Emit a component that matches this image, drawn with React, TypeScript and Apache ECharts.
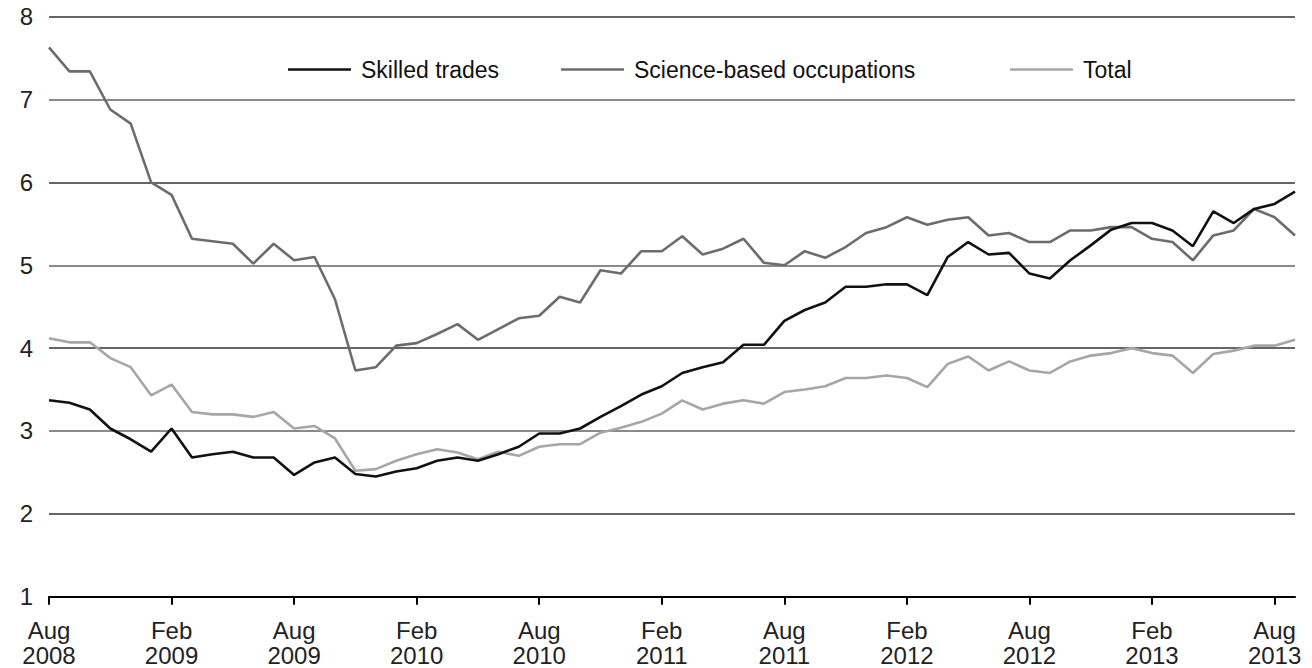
import React, { useEffect, useRef } from "react";
import * as echarts from "echarts";

const MONTH_NAMES = ["Jan", "Feb", "Mar", "Apr", "May", "Jun", "Jul", "Aug", "Sep", "Oct", "Nov", "Dec"];

// Monthly categories Aug 2008 .. Sep 2013
const categories: string[] = [];
for (let y = 2008, m = 7; y < 2013 || (y === 2013 && m <= 8); ) {
  categories.push(`${MONTH_NAMES[m]} ${y}`);
  m++;
  if (m > 11) { m = 0; y++; }
}

const skilledTrades = [
  3.37, 3.34, 3.26, 3.03, 2.90, 2.75, 3.03, 2.68, 2.72, 2.75,
  2.68, 2.68, 2.47, 2.62, 2.68, 2.48, 2.45, 2.51, 2.55, 2.64,
  2.68, 2.64, 2.72, 2.81, 2.97, 2.97, 3.03, 3.17, 3.30, 3.44,
  3.54, 3.70, 3.77, 3.83, 4.04, 4.04, 4.33, 4.46, 4.55, 4.74,
  4.74, 4.77, 4.77, 4.64, 5.10, 5.28, 5.13, 5.15, 4.90, 4.84,
  5.06, 5.24, 5.43, 5.51, 5.51, 5.42, 5.23, 5.65, 5.51, 5.68,
  5.74, 5.89,
];

const scienceBased = [
  7.63, 7.34, 7.34, 6.88, 6.71, 6.00, 5.85, 5.32, 5.29, 5.26,
  5.02, 5.26, 5.06, 5.10, 4.59, 3.73, 3.77, 4.03, 4.06, 4.17,
  4.29, 4.10, 4.23, 4.36, 4.39, 4.62, 4.55, 4.94, 4.90, 5.17,
  5.17, 5.35, 5.13, 5.20, 5.32, 5.03, 5.00, 5.17, 5.09, 5.22,
  5.39, 5.46, 5.58, 5.49, 5.55, 5.58, 5.36, 5.39, 5.28, 5.28,
  5.42, 5.42, 5.46, 5.46, 5.32, 5.28, 5.06, 5.36, 5.42, 5.68,
  5.58, 5.36,
];

const total = [
  4.12, 4.07, 4.07, 3.88, 3.77, 3.43, 3.56, 3.23, 3.20, 3.20,
  3.17, 3.23, 3.03, 3.06, 2.91, 2.52, 2.54, 2.64, 2.72, 2.78,
  2.74, 2.66, 2.75, 2.70, 2.81, 2.84, 2.84, 2.98, 3.04, 3.11,
  3.21, 3.37, 3.26, 3.33, 3.37, 3.33, 3.47, 3.50, 3.54, 3.64,
  3.64, 3.67, 3.64, 3.53, 3.81, 3.90, 3.73, 3.84, 3.73, 3.70,
  3.84, 3.91, 3.94, 4.00, 3.94, 3.91, 3.70, 3.93, 3.97, 4.03,
  4.03, 4.10,
];

const darkGridValues = [2, 4, 6, 8];
const grayGridValues = [3, 5, 7];

const seriesNames = ["Skilled trades", "Science-based occupations", "Total"];
const seriesColors = ["#111111", "#6c6c6c", "#a6a6a6"];
const legendLefts = [288, 561, 1010];

export default function App() {
  const ref = useRef<HTMLDivElement>(null);

  useEffect(() => {
    if (!ref.current) return;
    const chart = echarts.init(ref.current, null, { renderer: "svg" });
    const font = "Liberation Sans, Arial, Helvetica, sans-serif";
    const dataSets = [skilledTrades, scienceBased, total];

    const gridLineData = [
      ...darkGridValues.map((v) => ({ yAxis: v, lineStyle: { color: "#333333", width: 1.6, type: "solid" } })),
      ...grayGridValues.map((v) => ({ yAxis: v, lineStyle: { color: "#8a8a8a", width: 2.2, type: "solid" } })),
    ];

    const option: any = {
      animation: false,
      backgroundColor: "#ffffff",
      grid: { left: 49, right: 17, top: 16.7, bottom: 71.3, containLabel: false },
      legend: seriesNames.map((name, i) => ({
        data: [{ name, icon: "rect" }],
        left: legendLefts[i],
        top: 58,
        itemWidth: 63,
        itemHeight: 2.6,
        padding: 0,
        selectedMode: false,
        textStyle: { fontFamily: font, fontSize: 23, color: "#111", padding: [0, 0, 0, 5] },
      })),
      xAxis: {
        type: "category",
        data: categories,
        boundaryGap: false,
        axisLine: { show: true, lineStyle: { color: "#000", width: 2.2 } },
        axisTick: { show: true, interval: 5, length: 8, lineStyle: { color: "#000", width: 2 } },
        axisLabel: {
          interval: 5,
          margin: 21,
          fontFamily: font,
          fontSize: 24,
          lineHeight: 25,
          color: "#222",
          formatter: (v: string) => v.replace(" ", "\n"),
        },
        splitLine: { show: false },
      },
      yAxis: {
        type: "value",
        min: 1,
        max: 8,
        interval: 1,
        axisLine: { show: false },
        axisTick: { show: false },
        splitLine: { show: false },
        axisLabel: { margin: 16, fontFamily: font, fontSize: 24, color: "#222" },
      },
      series: seriesNames.map((name, i) => ({
        name,
        type: "line",
        data: dataSets[i],
        symbol: "none",
        showSymbol: false,
        z: 3 + (2 - i),
        lineStyle: { color: seriesColors[i], width: 2.6 },
        itemStyle: { color: seriesColors[i] },
        ...(i === 2
          ? {
              markLine: {
                silent: true,
                z: 1,
                symbol: ["none", "none"],
                label: { show: false },
                emphasis: { disabled: true },
                data: gridLineData,
              },
            }
          : {}),
      })),
    };

    chart.setOption(option);
    return () => chart.dispose();
  }, []);

  return (
    <div
      ref={ref}
      style={{ position: "fixed", left: 0, top: 0, width: 1312, height: 668, background: "#fff" }}
    />
  );
}
